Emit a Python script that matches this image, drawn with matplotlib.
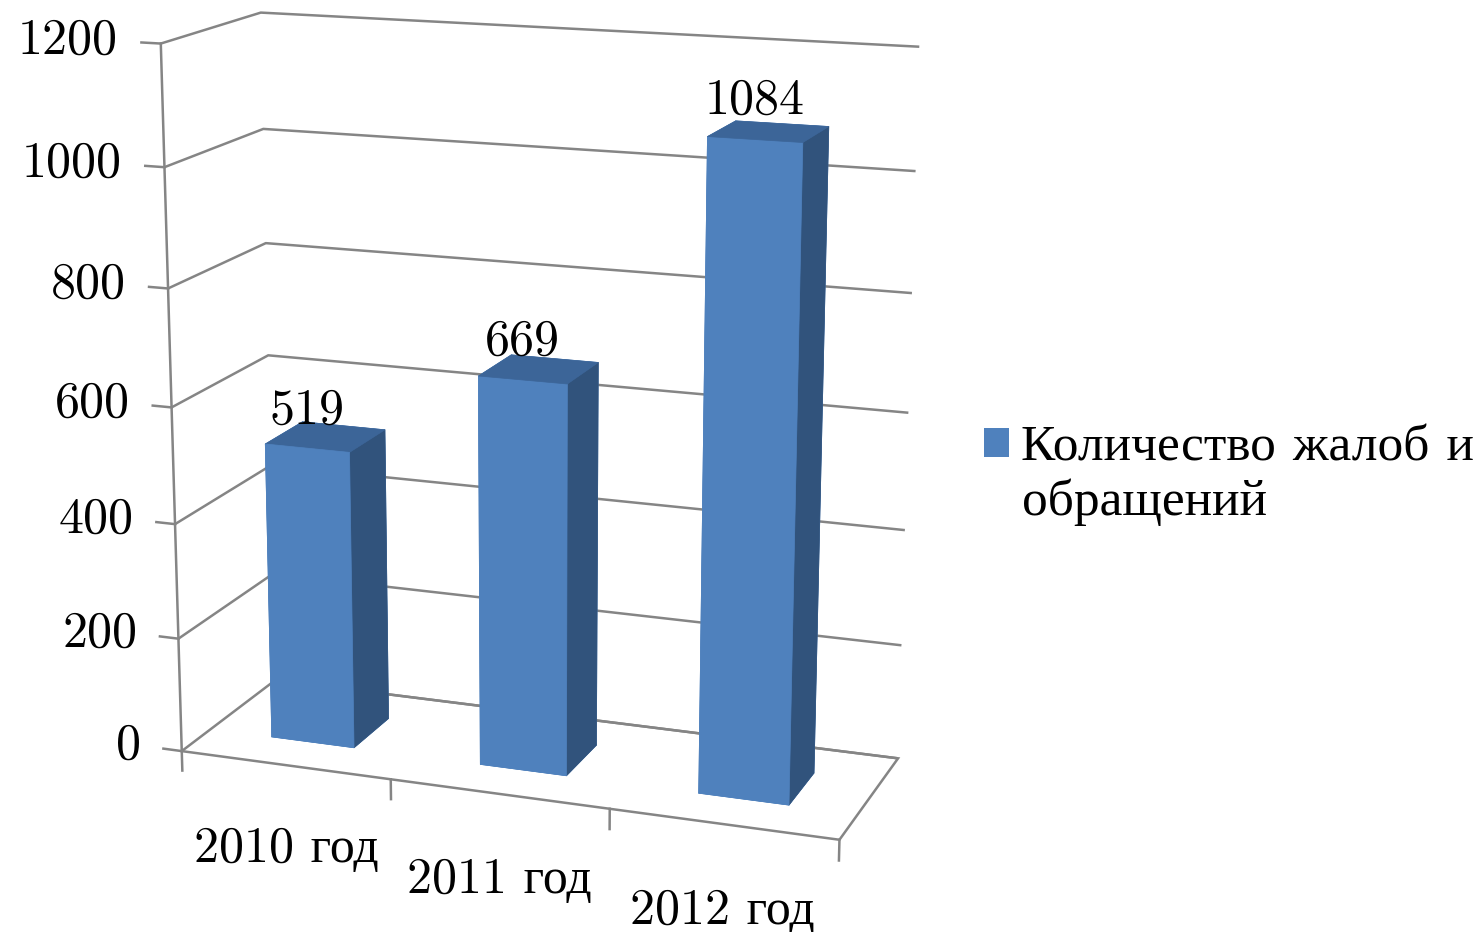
import matplotlib
matplotlib.use('Agg')
import matplotlib.pyplot as plt
from matplotlib.patches import Patch
import numpy as np

# ---- data ----
categories = ['2010 год', '2011 год', '2012 год']
values = [519, 669, 1084]
z_ticks = [0, 200, 400, 600, 800, 1000, 1200]
series_line1 = 'Количество жалоб и'
series_line2 = 'обращений'

plt.rcParams['font.family'] = ['cmr10', 'Liberation Serif', 'DejaVu Serif']
plt.rcParams['axes.formatter.use_mathtext'] = True

front = '#4F81BD'
top = '#3C6598'
side = '#31537C'
grid_c = '#858585'
lw = 1.8

fig = plt.figure(figsize=(14.83, 9.32), dpi=100)
ax = fig.add_axes([0.0406, 0.0465, 0.6285, 1.0], projection='3d')
ax.set_proj_type('persp', focal_length=0.65)
ax.view_init(elev=14.8, azim=-70)
ax.set_box_aspect((3.1, 1.03, 3.25), zoom=1.083)
n = len(values)
ax.set_xlim(0, n)
ax.set_ylim(0, 1)
ax.set_zlim(0, z_ticks[-1])

xs = np.arange(n) + 0.3
face_colors = []
for _ in range(n):
    face_colors += [front, top, front, front, front, side]  # -z,+z,-y,+y,-x,+x
ax.bar3d(xs, np.full(n, 0.3), np.zeros(n), 0.4, 0.4, values,
         color=face_colors, shade=False, edgecolor=face_colors, linewidth=0.5)

# panes
for axis in (ax.xaxis, ax.yaxis, ax.zaxis):
    axis.set_pane_color((1, 1, 1, 1))
    axis.line.set_color((1, 1, 1, 0))
    axis.label.set_visible(False)
ax.xaxis.pane.set_edgecolor((1, 1, 1, 0))
ax.yaxis.pane.set_edgecolor((1, 1, 1, 0))
ax.zaxis.pane.set_edgecolor(grid_c)
ax.zaxis.pane.set_linewidth(lw)

ax.grid(True)
ax.xaxis._axinfo['grid'].update(linewidth=0, color=(1, 1, 1, 0))
ax.yaxis._axinfo['grid'].update(linewidth=0, color=(1, 1, 1, 0))
ax.zaxis._axinfo['grid'].update(linewidth=lw, color=grid_c)
for axis in (ax.xaxis, ax.yaxis, ax.zaxis):
    axis._axinfo['tick'].update(inward_factor=0, outward_factor=0, color=(1, 1, 1, 0))

ax.set_xticks(range(n + 1))
ax.set_yticks([])
ax.set_zticks(z_ticks)
for axis in (ax.xaxis, ax.yaxis, ax.zaxis):
    axis.set_tick_params(label1On=False, label2On=False)

# z axis line and ticks (front-left edge)
ax.plot([0, 0], [0, 0], [0, z_ticks[-1]], color=grid_c, lw=lw)
for t in z_ticks:
    ax.plot([0, -0.09], [0, 0], [t, t], color=grid_c, lw=lw)
    ax.text(-0.2, 0, t, str(t), ha='right', va='center', fontsize=36)

# x tick marks pointing down
for t in range(n + 1):
    ax.plot([t, t], [0, 0], [0, -35], color=grid_c, lw=lw)

# category labels
for i, c in enumerate(categories):
    ax.text(i + 0.5, 0, -110, c, ha='center', va='top', fontsize=36)

# value labels
for i, v in enumerate(values):
    ax.text(i + 0.5, 0.3, v + 25, str(v), ha='center', va='bottom', fontsize=36)

# legend
leg = fig.legend(handles=[Patch(facecolor=front, edgecolor='none')], labels=[series_line1],
                 loc='upper left', bbox_to_anchor=(0.632, 0.594), frameon=False,
                 fontsize=37, handlelength=0.5, handleheight=0.5, handletextpad=0.22)
fig.text(0.689, 0.447, series_line2, fontsize=37, ha='left', va='baseline')

fig.savefig('out.png', dpi=100)
